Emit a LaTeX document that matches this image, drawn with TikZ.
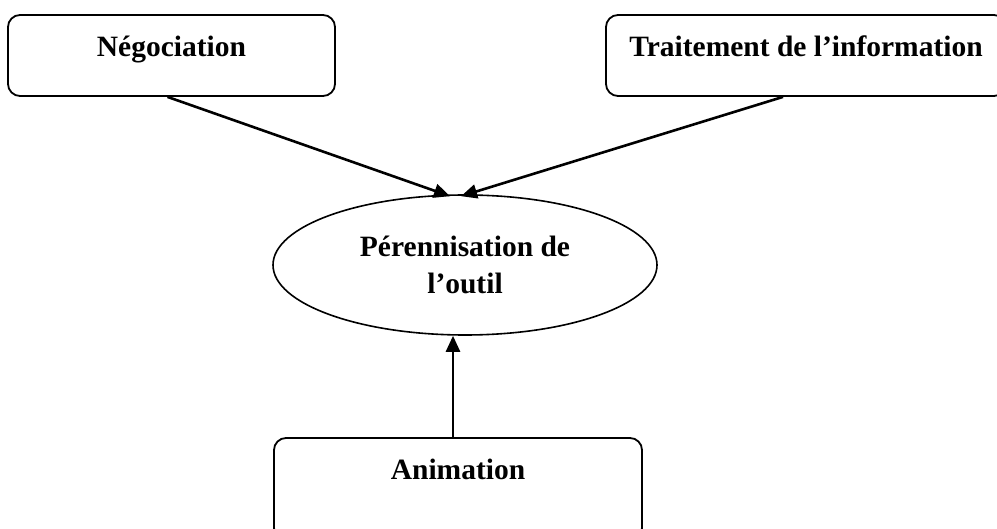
\documentclass[tikz,border=0pt]{standalone}
\usepackage{fontspec}
\setmainfont{Liberation Serif}
\usetikzlibrary{arrows.meta}
\usetikzlibrary{shapes.geometric}

\begin{document}
\begin{tikzpicture}[x=1pt, y=1pt,
        box/.style = {draw, line width=1.8pt, rounded corners=12pt, inner sep=0pt,
                      font=\fontsize{29.5}{37}\selectfont\bfseries, text height=42pt},
        oval/.style = {draw, ellipse, line width=1.6pt, inner sep=0pt,
                       minimum width=384pt, minimum height=140pt, align=center,
                       font=\fontsize{29.5}{37}\selectfont\bfseries},
        fleche/.style = {line width=2.6pt, -{Triangle[length=16pt, width=14pt]}}]
                \useasboundingbox (0,0) rectangle (997,528);
                \node[box, minimum width=327pt, text depth=39pt] (nego) at (171.5,472.5) {Négociation};
                \node[box, minimum width=400pt, text depth=39pt] (trait) at (806,472.5) {Traitement de l’information};
                \node[oval] (peren) at (465,263) {Pérennisation de\\l’outil};
                \node[box, minimum width=368pt, text depth=60pt] (anim) at (458,39) {Animation};
                \draw[fleche] ([xshift=-4pt]nego.south) -- ([xshift=-15pt, yshift=-2pt]peren.north);
                \draw[fleche] ([xshift=-23pt]trait.south) -- ([xshift=-4pt, yshift=-2pt]peren.north);
                \draw[fleche] ([xshift=-5pt]anim.north) -- ([xshift=-12pt]peren.south);
            \end{tikzpicture}
\end{document}
